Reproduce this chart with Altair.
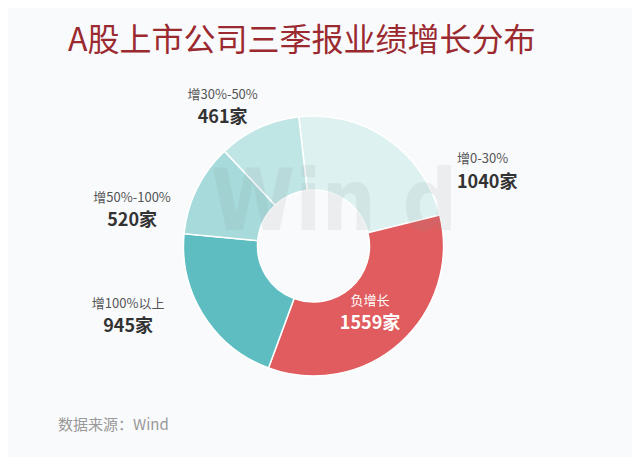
import math
import altair as alt
import pandas as pd

categories = ["增0-30%", "负增长", "增100%以上", "增50%-100%", "增30%-50%"]
counts = [1040, 1559, 945, 520, 461]
value_labels = ["1040家", "1559家", "945家", "520家", "461家"]
colors = ["#dcf1f0", "#e05c5e", "#5dbdc0", "#a6dadb", "#bfe5e4"]
title_text = "A股上市公司三季报业绩增长分布"
source_text = "数据来源：Wind"
watermark_text = "Win d"

df = pd.DataFrame({"cat": categories, "n": counts, "order": list(range(len(categories))),
                   "vlabel": value_labels})

total = sum(counts)
start = 2 * math.pi - math.radians(6.5)
rng = [start, start + 2 * math.pi]
W, H = 624, 449
cx, cy = 305.5, 238
FONT = "Noto Sans CJK SC"

arcs = alt.Chart(df).mark_arc(innerRadius=56, outerRadius=130, stroke="white", strokeWidth=1.5).encode(
    theta=alt.Theta("n:Q", stack=True, scale=alt.Scale(domain=[0, total], range=rng)),
    order=alt.Order("order:Q"),
    color=alt.Color("cat:N", scale=alt.Scale(domain=categories, range=colors), legend=None),
    x=alt.value(cx), y=alt.value(cy),
)

# label styling per category: radius, dx, dy (name line), dy (value line), align, colours
label_style = {
    "增0-30%": (167, 48, 50, 74, "left", "#555555", "#333333"),
    "负增长": (88, -2, -11, 12, "center", "#ffffff", "#ffffff"),
    "增100%以上": (167, -44, -31, -8, "center", "#555555", "#333333"),
    "增50%-100%": (167, -31.5, 25.5, 48.5, "center", "#555555", "#333333"),
    "增30%-50%": (167, -20.7, 0.5, 23.5, "center", "#555555", "#333333"),
}

base_txt = alt.Chart(df).transform_window(
    cum="sum(n)", sort=[{"field": "order"}], frame=[None, 0]
).transform_calculate(mid="datum.cum - datum.n / 2")

layers = [arcs]

watermark = alt.Chart(df).transform_filter("datum.order == 0").mark_text(
    font="DejaVu Sans Condensed, Liberation Sans, sans-serif", fontSize=85, fontWeight="bold",
    color="#8a9499", opacity=0.12, align="center", baseline="middle",
).encode(x=alt.value(326), y=alt.value(196), text=alt.value(watermark_text))
layers.append(watermark)

for cat in categories:
    R, dx, dy1, dy2, align, c1, c2 = label_style[cat]
    sub = base_txt.transform_filter(alt.datum.cat == cat)
    enc = dict(
        theta=alt.Theta("mid:Q", stack=False, scale=alt.Scale(domain=[0, total], range=rng)),
        x=alt.value(cx), y=alt.value(cy),
    )
    t1 = sub.mark_text(radius=R, dx=dx, dy=dy1, align=align, baseline="middle", font=FONT,
                       fontSize=13, color=c1).encode(text="cat:N", **enc)
    t2 = sub.mark_text(radius=R, dx=dx, dy=dy2, align=align, baseline="middle", font=FONT,
                       fontSize=18, fontWeight="bold", color=c2).encode(text="vlabel:N", **enc)
    layers += [t1, t2]

title = alt.Chart(df).transform_filter("datum.order == 0").mark_text(
    font=FONT, fontSize=32, color="#9b2a30", align="left", baseline="alphabetic"
).encode(x=alt.value(60), y=alt.value(43), text=alt.value(title_text))

source = alt.Chart(df).transform_filter("datum.order == 0").mark_text(
    font=FONT, fontSize=15, color="#999999", align="left", baseline="middle"
).encode(x=alt.value(50), y=alt.value(417), text=alt.value(source_text))

layers += [title, source]

chart = alt.layer(*layers).resolve_scale(theta="independent").properties(
    width=W, height=H, autosize="none", padding=0, background="#f9fafc"
).configure_view(stroke=None)

chart.save("out.html", embed_options={"renderer": "svg", "actions": False})
